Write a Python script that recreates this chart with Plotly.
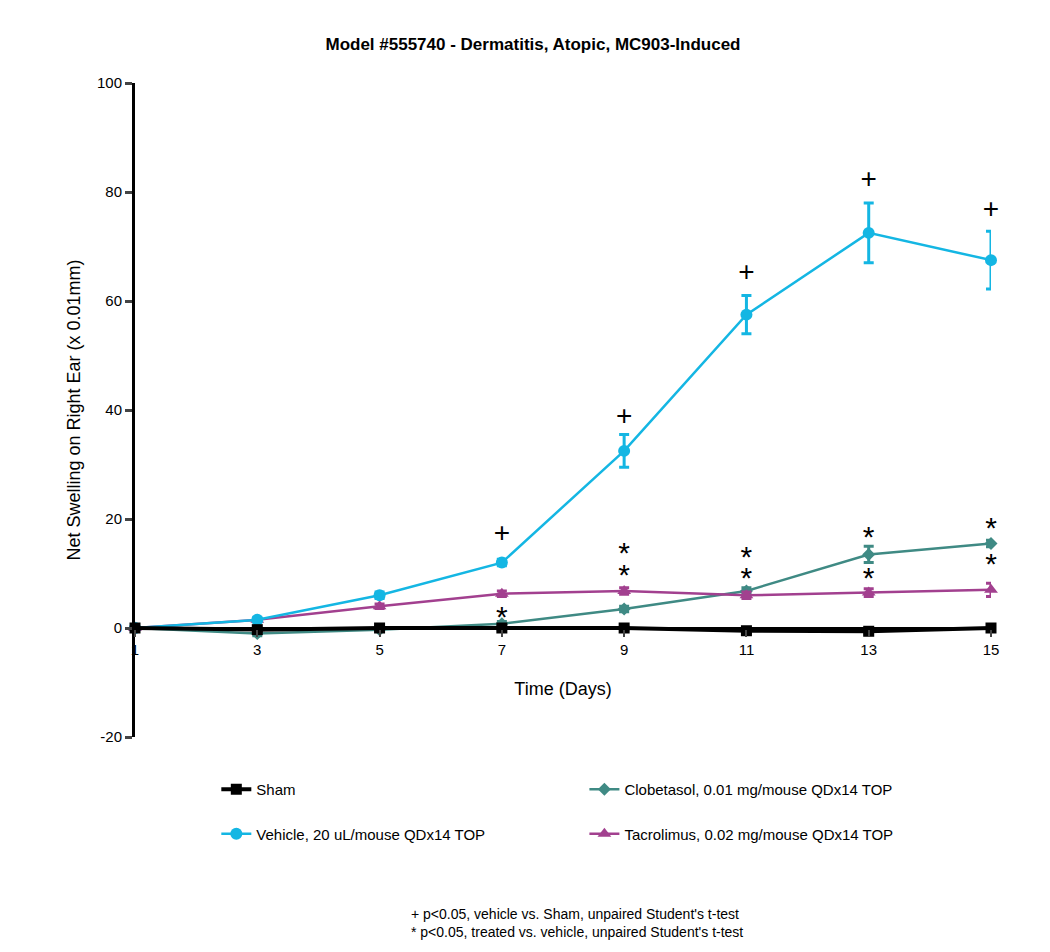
import plotly.graph_objects as go

days = [1, 3, 5, 7, 9, 11, 13, 15]

sham = [0, -0.3, 0, 0, 0, -0.5, -0.6, 0]
sham_err = [0, 0.3, 0.3, 0.3, 0.3, 0.4, 0.5, 0.3]
vehicle = [0, 1.5, 6, 12, 32.5, 57.5, 72.5, 67.5]
vehicle_err = [0, 0.4, 0.6, 0.6, 3.0, 3.5, 5.5, 5.3]
clobetasol = [0, -1, -0.3, 0.8, 3.5, 6.8, 13.5, 15.5]
clobetasol_err = [0, 0.4, 0.3, 0.4, 0.5, 0.6, 1.5, 0.6]
tacrolimus = [0, 1.5, 4, 6.3, 6.8, 6, 6.5, 7]
tacrolimus_err = [0, 0.3, 0.4, 0.5, 0.6, 0.6, 0.7, 1.2]

plus_days = [7, 9, 11, 13, 15]
plus_y = [17, 38.5, 65, 82, 76.5]
star_days = [7, 9, 9, 11, 11, 13, 13, 15, 15]
star_y = [1.5, 13.3, 9.3, 12.5, 8.7, 16.3, 8.7, 17.8, 11.2]

def series(name, y, err, color, symbol, size, width, rank, legend):
    return go.Scatter(
        x=days, y=y, name=name, mode="lines+markers",
        line=dict(color=color, width=width),
        marker=dict(color=color, symbol=symbol, size=size),
        error_y=dict(type="data", array=err, color=color, thickness=3, width=5),
        legendrank=rank, legend=legend, legendgroup=name, cliponaxis=False,
    )

fig = go.Figure()
fig.add_trace(series("Clobetasol, 0.01 mg/mouse QDx14 TOP", clobetasol, clobetasol_err,
                     "#3f8a84", "diamond", 10, 2.5, 1, "legend2"))
fig.add_trace(series("Tacrolimus, 0.02 mg/mouse QDx14 TOP", tacrolimus, tacrolimus_err,
                     "#a2408f", "triangle-up", 12, 2.5, 2, "legend2"))
fig.add_trace(series("Vehicle, 20 uL/mouse QDx14 TOP", vehicle, vehicle_err,
                     "#14b6e3", "circle", 12, 2.5, 2, "legend"))
fig.add_trace(series("Sham", sham, sham_err, "black", "square", 11, 4, 1, "legend"))

fig.add_trace(go.Scatter(x=plus_days, y=plus_y, mode="text", text=["+"] * len(plus_days),
                         textfont=dict(size=28, color="black"), showlegend=False, cliponaxis=False))
fig.add_trace(go.Scatter(x=star_days, y=star_y, mode="text", text=["*"] * len(star_days),
                         textfont=dict(size=30, color="black"), showlegend=False, cliponaxis=False))

leg = dict(orientation="v", yanchor="top", y=-0.055, font=dict(size=15),
           tracegroupgap=22, bgcolor="rgba(0,0,0,0)")

fig.update_layout(
    width=1050, height=952,
    margin=dict(l=127, r=67, t=75, b=223, autoexpand=False),
    plot_bgcolor="white", paper_bgcolor="white",
    font=dict(family="Liberation Sans, Arial", size=15, color="black"),
    title=dict(text="<b>Model #555740 - Dermatitis, Atopic, MC903-Induced</b>",
               x=0.5, xanchor="center", y=0.962, yanchor="middle", font=dict(size=17)),
    xaxis=dict(range=[1, 15], tickvals=days, ticks="outside", ticklen=7, tickwidth=2,
               showline=True, linecolor="black", linewidth=2.5, showgrid=False,
               zeroline=False, anchor="free", position=1/6, automargin=False,
               title=dict(text="Time (Days)", standoff=25)),
    yaxis=dict(range=[-20, 100], tickvals=[-20, 0, 20, 40, 60, 80, 100],
               ticktext=["-20", "0", "20", "40", "60", "80", "100"],
               ticks="outside", ticklen=7, tickwidth=2.5, automargin=False,
               showline=True, linecolor="black", linewidth=3, showgrid=False,
               zeroline=False, title=dict(text="Net Swelling on Right Ear (x 0.01mm)", standoff=12)),
    legend=dict(x=0.095, xanchor="left", **leg),
    legend2=dict(x=0.525, xanchor="left", **leg),
)

fig.add_annotation(
    text="+ p<0.05, vehicle vs. Sham, unpaired Student's t-test<br>"
         "* p<0.05, treated vs. vehicle, unpaired Student's t-test",
    xref="paper", yref="paper", x=0.516, y=-0.255, xanchor="center", yanchor="top",
    showarrow=False, align="left", font=dict(size=14),
)

fig.write_html("out.html")
